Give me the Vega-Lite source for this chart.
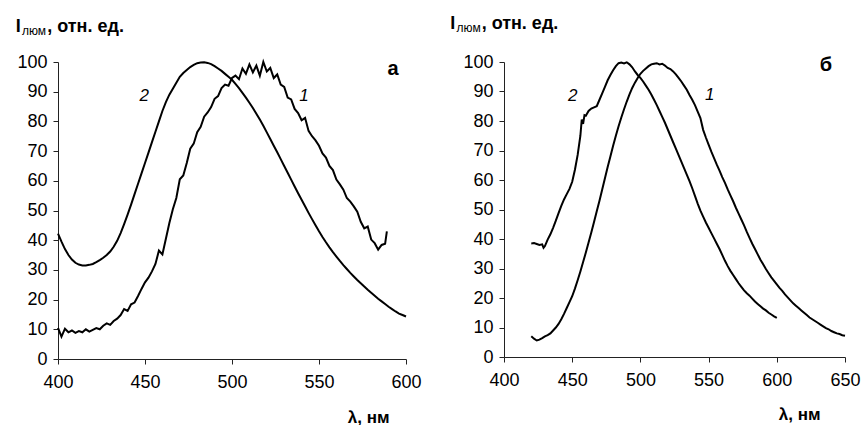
{
  "$schema": "https://vega.github.io/schema/vega-lite/v6.json",
  "background": "white",
  "padding": {"left": 15, "top": 14, "right": 5, "bottom": 0},
  "spacing": 28,
  "datasets": {
    "a1": [
      {"x":400,"y":10.5},{"x":402,"y":7.5},{"x":404,"y":10.2},{"x":406,"y":9.0},{"x":408,"y":9.6},{"x":410,"y":8.8},{"x":412,"y":9.4},{"x":414,"y":9.0},{"x":416,"y":10.0},{"x":418,"y":9.2},
      {"x":420,"y":9.8},{"x":422,"y":10.4},{"x":424,"y":10.0},{"x":426,"y":11.2},{"x":428,"y":12.0},{"x":430,"y":11.5},{"x":432,"y":12.8},{"x":434,"y":13.6},{"x":436,"y":14.8},{"x":438,"y":16.8},
      {"x":440,"y":16.2},{"x":442,"y":18.4},{"x":444,"y":19.0},{"x":446,"y":21.2},{"x":448,"y":23.6},{"x":450,"y":25.8},{"x":452,"y":27.4},{"x":454,"y":29.5},{"x":456,"y":32.0},{"x":458,"y":36.5},
      {"x":460,"y":35.2},{"x":462,"y":40.5},{"x":464,"y":45.8},{"x":466,"y":50.4},{"x":468,"y":54.2},{"x":470,"y":60.5},{"x":472,"y":61.8},{"x":474,"y":66.0},{"x":476,"y":70.8},{"x":478,"y":72.5},
      {"x":480,"y":76.4},{"x":482,"y":78.2},{"x":484,"y":81.6},{"x":486,"y":83.0},{"x":488,"y":84.8},{"x":490,"y":87.6},{"x":492,"y":88.5},{"x":494,"y":91.2},{"x":496,"y":92.4},{"x":498,"y":92.0},
      {"x":500,"y":94.6},{"x":502,"y":95.4},{"x":504,"y":94.2},{"x":506,"y":97.8},{"x":508,"y":96.0},{"x":510,"y":99.2},{"x":512,"y":96.5},{"x":514,"y":98.8},{"x":516,"y":95.4},{"x":518,"y":100.0},
      {"x":520,"y":96.8},{"x":522,"y":98.0},{"x":524,"y":94.6},{"x":526,"y":95.8},{"x":528,"y":92.4},{"x":530,"y":91.6},{"x":532,"y":88.0},{"x":534,"y":87.4},{"x":536,"y":84.2},{"x":538,"y":82.8},
      {"x":540,"y":80.4},{"x":542,"y":81.2},{"x":544,"y":76.8},{"x":546,"y":75.0},{"x":548,"y":73.6},{"x":550,"y":71.8},{"x":552,"y":69.2},{"x":554,"y":67.8},{"x":556,"y":65.0},{"x":558,"y":63.6},
      {"x":560,"y":60.4},{"x":562,"y":58.8},{"x":564,"y":57.0},{"x":566,"y":54.2},{"x":568,"y":53.0},{"x":570,"y":51.4},{"x":572,"y":49.6},{"x":574,"y":46.2},{"x":576,"y":44.0},{"x":578,"y":44.6},
      {"x":580,"y":40.2},{"x":582,"y":39.0},{"x":584,"y":36.8},{"x":586,"y":38.4},{"x":588,"y":38.8},{"x":589,"y":43.0}
    ],
    "a2": [
      {"x":400,"y":42.2},{"x":402,"y":39.5},{"x":404,"y":37.0},{"x":406,"y":35.0},{"x":408,"y":33.5},{"x":410,"y":32.4},{"x":412,"y":31.8},{"x":414,"y":31.5},{"x":416,"y":31.5},{"x":418,"y":31.7},
      {"x":420,"y":32.0},{"x":422,"y":32.6},{"x":424,"y":33.3},{"x":426,"y":34.1},{"x":428,"y":35.0},{"x":430,"y":36.2},{"x":432,"y":37.8},{"x":434,"y":39.8},{"x":436,"y":42.4},{"x":438,"y":45.4},
      {"x":440,"y":48.6},{"x":442,"y":52.0},{"x":444,"y":55.5},{"x":446,"y":59.0},{"x":448,"y":62.5},{"x":450,"y":66.0},{"x":452,"y":69.5},{"x":454,"y":73.0},{"x":456,"y":76.5},{"x":458,"y":80.0},
      {"x":460,"y":83.5},{"x":462,"y":86.5},{"x":464,"y":89.0},{"x":466,"y":91.0},{"x":468,"y":93.0},{"x":470,"y":95.0},{"x":472,"y":96.3},{"x":474,"y":97.3},{"x":476,"y":98.3},{"x":478,"y":99.0},
      {"x":480,"y":99.6},{"x":482,"y":99.8},{"x":484,"y":99.9},{"x":486,"y":99.7},{"x":488,"y":99.3},{"x":490,"y":98.6},{"x":492,"y":97.8},{"x":494,"y":97.0},{"x":496,"y":96.0},{"x":498,"y":95.0},
      {"x":500,"y":94.0},{"x":502,"y":92.6},{"x":504,"y":91.2},{"x":506,"y":89.6},{"x":508,"y":88.0},{"x":510,"y":86.3},{"x":512,"y":84.5},{"x":514,"y":82.6},{"x":516,"y":80.6},{"x":518,"y":78.5},
      {"x":520,"y":76.3},{"x":522,"y":74.1},{"x":524,"y":71.8},{"x":526,"y":69.6},{"x":528,"y":67.3},{"x":530,"y":65.0},{"x":532,"y":62.7},{"x":534,"y":60.4},{"x":536,"y":58.1},{"x":538,"y":55.8},
      {"x":540,"y":53.6},{"x":542,"y":51.4},{"x":544,"y":49.2},{"x":546,"y":47.1},{"x":548,"y":45.0},{"x":550,"y":43.0},{"x":552,"y":41.1},{"x":554,"y":39.3},{"x":556,"y":37.6},{"x":558,"y":36.0},
      {"x":560,"y":34.5},{"x":562,"y":33.0},{"x":564,"y":31.6},{"x":566,"y":30.3},{"x":568,"y":29.0},{"x":570,"y":27.8},{"x":572,"y":26.6},{"x":574,"y":25.5},{"x":576,"y":24.4},{"x":578,"y":23.3},
      {"x":580,"y":22.3},{"x":582,"y":21.3},{"x":584,"y":20.3},{"x":586,"y":19.4},{"x":588,"y":18.5},{"x":590,"y":17.6},{"x":592,"y":16.8},{"x":594,"y":16.0},{"x":596,"y":15.3},{"x":598,"y":14.8},{"x":600,"y":14.3}
    ],
    "b1": [
      {"x":420,"y":7.0},{"x":422,"y":6.2},{"x":424,"y":5.6},{"x":426,"y":5.9},{"x":428,"y":6.4},{"x":430,"y":7.0},{"x":432,"y":7.4},{"x":434,"y":8.0},{"x":436,"y":9.0},{"x":438,"y":10.0},
      {"x":440,"y":11.2},{"x":442,"y":12.8},{"x":444,"y":14.6},{"x":446,"y":16.6},{"x":448,"y":18.6},{"x":450,"y":20.6},{"x":452,"y":23.2},{"x":454,"y":26.0},{"x":456,"y":29.0},{"x":458,"y":32.2},
      {"x":460,"y":35.4},{"x":462,"y":38.8},{"x":464,"y":42.2},{"x":466,"y":45.8},{"x":468,"y":49.4},{"x":470,"y":53.0},{"x":472,"y":56.8},{"x":474,"y":60.6},{"x":476,"y":64.4},{"x":478,"y":68.0},
      {"x":480,"y":71.6},{"x":482,"y":75.0},{"x":484,"y":78.2},{"x":486,"y":81.2},{"x":488,"y":84.0},{"x":490,"y":86.6},{"x":492,"y":89.0},{"x":494,"y":91.2},{"x":496,"y":93.0},{"x":498,"y":94.6},
      {"x":500,"y":96.0},{"x":502,"y":97.0},{"x":504,"y":97.8},{"x":506,"y":98.6},{"x":508,"y":99.2},{"x":510,"y":99.4},{"x":512,"y":99.6},{"x":514,"y":99.2},{"x":516,"y":99.4},{"x":518,"y":98.8},
      {"x":520,"y":98.0},{"x":522,"y":97.6},{"x":524,"y":96.8},{"x":526,"y":95.8},{"x":528,"y":94.6},{"x":530,"y":93.4},{"x":532,"y":92.0},{"x":534,"y":90.6},{"x":536,"y":88.8},{"x":538,"y":87.2},
      {"x":540,"y":85.4},{"x":542,"y":83.2},{"x":544,"y":81.0},{"x":546,"y":77.0},{"x":548,"y":74.4},{"x":550,"y":72.0},{"x":552,"y":69.6},{"x":554,"y":67.4},{"x":556,"y":65.2},{"x":558,"y":63.2},
      {"x":560,"y":61.0},{"x":562,"y":59.0},{"x":564,"y":56.8},{"x":566,"y":54.8},{"x":568,"y":52.8},{"x":570,"y":50.6},{"x":572,"y":48.6},{"x":574,"y":46.6},{"x":576,"y":44.6},{"x":578,"y":42.4},
      {"x":580,"y":40.4},{"x":582,"y":38.4},{"x":584,"y":36.6},{"x":586,"y":34.8},{"x":588,"y":33.0},{"x":590,"y":31.4},{"x":592,"y":29.8},{"x":594,"y":28.4},{"x":596,"y":27.0},{"x":598,"y":25.8},
      {"x":600,"y":24.6},{"x":602,"y":23.4},{"x":604,"y":22.4},{"x":606,"y":21.2},{"x":608,"y":20.2},{"x":610,"y":19.2},{"x":612,"y":18.2},{"x":614,"y":17.4},{"x":616,"y":16.6},{"x":618,"y":15.8},
      {"x":620,"y":15.0},{"x":622,"y":14.2},{"x":624,"y":13.4},{"x":626,"y":12.8},{"x":628,"y":12.2},{"x":630,"y":11.6},{"x":632,"y":11.0},{"x":634,"y":10.4},{"x":636,"y":9.8},{"x":638,"y":9.4},
      {"x":640,"y":8.8},{"x":642,"y":8.4},{"x":644,"y":8.0},{"x":646,"y":7.8},{"x":648,"y":7.4},{"x":650,"y":7.2}
    ],
    "b2": [
      {"x":420,"y":38.5},{"x":422,"y":38.6},{"x":424,"y":38.3},{"x":426,"y":38.0},{"x":428,"y":38.2},{"x":429,"y":37.0},{"x":430,"y":37.6},{"x":432,"y":39.8},{"x":434,"y":41.6},{"x":436,"y":43.8},
      {"x":438,"y":46.2},{"x":440,"y":48.8},{"x":442,"y":51.2},{"x":444,"y":53.4},{"x":446,"y":55.2},{"x":448,"y":57.0},{"x":450,"y":59.4},{"x":452,"y":63.5},{"x":454,"y":68.5},{"x":456,"y":75.0},
      {"x":457,"y":80.5},{"x":458,"y":79.0},{"x":459,"y":82.0},{"x":460,"y":81.8},{"x":462,"y":83.4},{"x":464,"y":84.2},{"x":466,"y":84.6},{"x":468,"y":85.0},{"x":470,"y":87.2},{"x":472,"y":89.4},
      {"x":474,"y":91.6},{"x":476,"y":93.8},{"x":478,"y":95.6},{"x":480,"y":97.2},{"x":482,"y":98.6},{"x":484,"y":99.6},{"x":486,"y":99.8},{"x":488,"y":99.5},{"x":490,"y":99.9},{"x":492,"y":99.2},
      {"x":494,"y":98.2},{"x":496,"y":96.8},{"x":498,"y":95.6},{"x":500,"y":94.6},{"x":502,"y":93.4},{"x":504,"y":92.0},{"x":506,"y":90.6},{"x":508,"y":89.0},{"x":510,"y":87.2},{"x":512,"y":85.4},
      {"x":514,"y":83.4},{"x":516,"y":81.4},{"x":518,"y":79.4},{"x":520,"y":77.2},{"x":522,"y":75.0},{"x":524,"y":72.8},{"x":526,"y":70.6},{"x":528,"y":68.4},{"x":530,"y":66.2},{"x":532,"y":64.0},
      {"x":534,"y":61.8},{"x":536,"y":59.6},{"x":538,"y":57.2},{"x":540,"y":54.6},{"x":542,"y":52.0},{"x":544,"y":49.6},{"x":546,"y":47.6},{"x":548,"y":45.6},{"x":550,"y":43.8},{"x":552,"y":42.0},
      {"x":554,"y":40.2},{"x":556,"y":38.4},{"x":558,"y":36.6},{"x":560,"y":34.6},{"x":562,"y":32.6},{"x":564,"y":30.8},{"x":566,"y":29.2},{"x":568,"y":27.8},{"x":570,"y":26.4},{"x":572,"y":25.0},
      {"x":574,"y":23.8},{"x":576,"y":22.6},{"x":578,"y":21.6},{"x":580,"y":20.8},{"x":582,"y":19.8},{"x":584,"y":18.8},{"x":586,"y":18.0},{"x":588,"y":17.2},{"x":590,"y":16.4},{"x":592,"y":15.8},
      {"x":594,"y":15.0},{"x":596,"y":14.4},{"x":598,"y":13.8},{"x":600,"y":13.3}
    ]
  },
  "hconcat": [
    {
      "width": 348,
      "height": 297,
      "encoding": {
        "x": {"field": "x", "type": "quantitative", "scale": {"domain": [400, 600], "nice": false},
              "axis": {"values": [400, 450, 500, 550, 600], "title": "λ, нм", "titleX": 331, "titleY": 63, "titleAnchor": "end", "titleAlign": "right", "titleBaseline": "alphabetic"}},
        "y": {"field": "y", "type": "quantitative", "scale": {"domain": [0, 100], "nice": false},
              "axis": {"values": [0, 10, 20, 30, 40, 50, 60, 70, 80, 90, 100], "title": null}}
      },
      "layer": [
        {"data": {"name": "a1"}, "mark": {"type": "line", "color": "#000", "strokeWidth": 2}},
        {"data": {"name": "a2"}, "mark": {"type": "line", "color": "#000", "strokeWidth": 2}},
        {
          "data": {"values": [{"t": "2", "x": 449.6, "y": 88.5}, {"t": "1", "x": 541.4, "y": 88.5}]},
          "mark": {"type": "text", "fontStyle": "italic", "fontSize": 17, "align": "center", "baseline": "middle"},
          "encoding": {"text": {"field": "t"}}
        },
        {
          "data": {"values": [{"t": "а", "x": 592.5, "y": 97.7}]},
          "mark": {"type": "text", "fontWeight": "bold", "fontSize": 20, "align": "center", "baseline": "middle"},
          "encoding": {"text": {"field": "t"}}
        },
        {
          "data": {"values": [{"t": "I", "x": 375.7, "y": 110.2}, {"t": ", отн. ед.", "x": 393.8, "y": 110.2}]},
          "mark": {"type": "text", "fontWeight": "bold", "fontSize": 18, "align": "left", "baseline": "alphabetic"},
          "encoding": {"text": {"field": "t"}}
        },
        {
          "data": {"values": [{"t": "люм", "x": 379.3, "y": 109.1}]},
          "mark": {"type": "text", "fontSize": 12, "align": "left", "baseline": "alphabetic"},
          "encoding": {"text": {"field": "t"}}
        }
      ]
    },
    {
      "width": 341,
      "height": 295,
      "encoding": {
        "x": {"field": "x", "type": "quantitative", "scale": {"domain": [400, 650], "nice": false},
              "axis": {"values": [400, 450, 500, 550, 600, 650], "title": "λ, нм", "titleX": 316, "titleY": 62, "titleAnchor": "end", "titleAlign": "right", "titleBaseline": "alphabetic"}},
        "y": {"field": "y", "type": "quantitative", "scale": {"domain": [0, 100], "nice": false},
              "axis": {"values": [0, 10, 20, 30, 40, 50, 60, 70, 80, 90, 100], "title": null}}
      },
      "layer": [
        {"data": {"name": "b1"}, "mark": {"type": "line", "color": "#000", "strokeWidth": 2}},
        {"data": {"name": "b2"}, "mark": {"type": "line", "color": "#000", "strokeWidth": 2}},
        {
          "data": {"values": [{"t": "2", "x": 450.4, "y": 88.4}, {"t": "1", "x": 550.8, "y": 88.8}]},
          "mark": {"type": "text", "fontStyle": "italic", "fontSize": 17, "align": "center", "baseline": "middle"},
          "encoding": {"text": {"field": "t"}}
        },
        {
          "data": {"values": [{"t": "б", "x": 636, "y": 98.9}]},
          "mark": {"type": "text", "fontWeight": "bold", "fontSize": 20, "align": "center", "baseline": "middle"},
          "encoding": {"text": {"field": "t"}}
        },
        {
          "data": {"values": [{"t": "I", "x": 360.6, "y": 111.3}, {"t": ", отн. ед.", "x": 383.6, "y": 111.3}]},
          "mark": {"type": "text", "fontWeight": "bold", "fontSize": 18, "align": "left", "baseline": "alphabetic"},
          "encoding": {"text": {"field": "t"}}
        },
        {
          "data": {"values": [{"t": "люм", "x": 365.2, "y": 110.2}]},
          "mark": {"type": "text", "fontSize": 12, "align": "left", "baseline": "alphabetic"},
          "encoding": {"text": {"field": "t"}}
        }
      ]
    }
  ],
  "config": {
    "view": {"stroke": null},
    "font": "Liberation Sans",
    "text": {"color": "#000", "font": "Liberation Sans"},
    "axis": {
      "grid": false,
      "domainColor": "#222",
      "domainWidth": 1,
      "tickColor": "#222",
      "tickWidth": 1,
      "tickSize": 5,
      "labelColor": "#000",
      "labelFont": "Liberation Sans",
      "labelFontSize": 18,
      "labelPadding": 6,
      "labelFlush": false,
      "labelOverlap": false,
      "titleColor": "#000",
      "titleFont": "Liberation Sans",
      "titleFontSize": 17,
      "titleFontWeight": "bold"
    },
    "axisX": {"labelPadding": 9}
  }
}
